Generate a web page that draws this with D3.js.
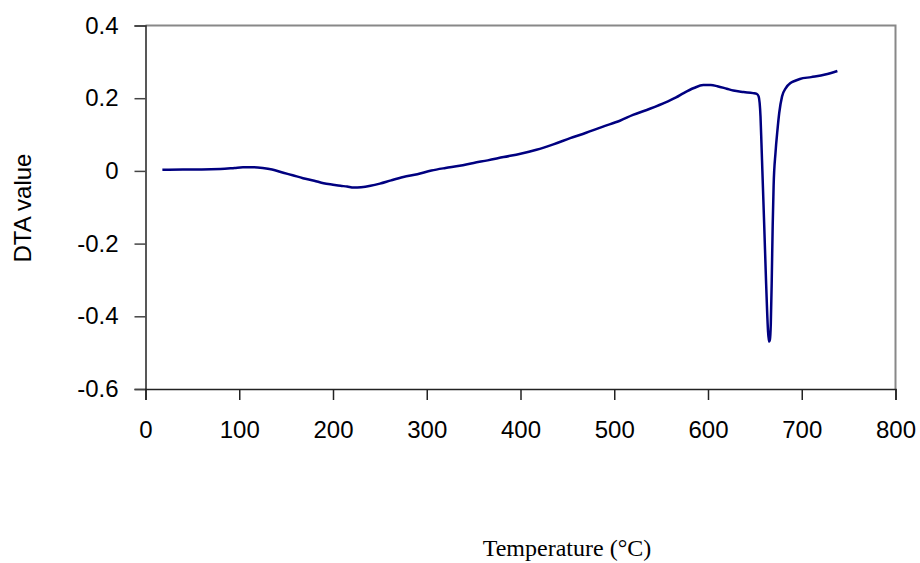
<!DOCTYPE html>
<html>
<head>
<meta charset="utf-8">
<script src="https://cdn.jsdelivr.net/npm/d3@7"></script>
<style>
  body { margin: 0; background: #fff; }
</style>
</head>
<body>
<div id="chart"></div>
<script>
// dimensions
var width = 920
var height = 563

var temperature = [18, 40, 60, 80, 95, 104, 115, 125, 135, 147, 157, 168, 180, 190, 200, 208, 215, 222, 230, 240,
  250, 262, 275, 290, 305, 320, 335, 350, 365, 382, 400, 417, 435, 453, 470, 488, 506, 520, 538, 556,
  566, 574, 585, 595, 603, 610, 620, 627, 638, 648, 652, 654, 656, 657, 658, 660, 662, 663, 664, 665,
  666, 667, 668, 669, 670, 672, 674, 676, 679, 683, 688, 693, 698, 710, 725, 738]
var dta = [0.003, 0.004, 0.004, 0.005, 0.008, 0.010, 0.010, 0.008, 0.004, -0.005, -0.012, -0.020, -0.027, -0.034, -0.038, -0.041, -0.043, -0.046, -0.045, -0.041,
  -0.035, -0.026, -0.017, -0.009, 0.001, 0.008, 0.014, 0.022, 0.029, 0.038, 0.047, 0.058, 0.073, 0.090, 0.105, 0.122, 0.138, 0.154, 0.171, 0.190,
  0.202, 0.214, 0.228, 0.236, 0.236, 0.233, 0.226, 0.221, 0.217, 0.214, 0.212, 0.205, 0.150, 0.077, 0.000, -0.153, -0.310, -0.382, -0.440, -0.470,
  -0.465, -0.420, -0.300, -0.150, -0.040, 0.050, 0.110, 0.160, 0.205, 0.228, 0.242, 0.248, 0.253, 0.258, 0.265, 0.275]

var xTicks = [0, 100, 200, 300, 400, 500, 600, 700, 800]
var yTicks = [-0.6, -0.4, -0.2, 0, 0.2, 0.4]

var data = temperature.map(function(t, i) { return {t: t, v: dta[i]} })

var svg = d3.select("#chart")
  .append("svg")
    .attr("width", width)
    .attr("height", height)

var x = d3.scaleLinear().domain([0, 800]).range([145.5, 895.5])
var y = d3.scaleLinear().domain([-0.6, 0.4]).range([389, 25.5])

// cadre gris (haut et droite)
svg.append("path")
  .attr("d", "M" + x(0) + "," + y(0.4) + "H" + x(800) + "V" + y(-0.6))
  .attr("fill", "none")
  .attr("stroke", "#888")
  .attr("stroke-width", 2)

// format avec tiret simple comme dans l'original
var fmtY = function(d) { return d === 0 ? "0" : d3.format(".1f")(d).replace("\u2212", "-") }

// axe Y
var yAxis = svg.append("g")
  .attr("transform", "translate(" + x(0) + ",0)")
  .call(d3.axisLeft(y).tickValues(yTicks).tickSize(11).tickPadding(16).tickFormat(fmtY))
yAxis.select(".domain").attr("stroke", "#222").attr("stroke-width", 1.5)
yAxis.selectAll(".tick line").attr("stroke", "#444").attr("stroke-width", 1.5)
yAxis.selectAll("text")
  .style("font-family", "'Liberation Sans', Arial, sans-serif")
  .style("font-size", "24px")
  .attr("fill", "#000")

// axe X
var xAxis = svg.append("g")
  .attr("transform", "translate(0," + y(-0.6) + ")")
  .call(d3.axisBottom(x).tickValues(xTicks).tickSize(11).tickPadding(21).tickFormat(d3.format("d")))
xAxis.select(".domain").attr("stroke", "#222").attr("stroke-width", 1.5)
xAxis.selectAll(".tick line").attr("stroke", "#222").attr("stroke-width", 1.5)
xAxis.selectAll("text")
  .style("font-family", "'Liberation Sans', Arial, sans-serif")
  .style("font-size", "24px")
  .attr("fill", "#000")

// courbe
var line = d3.line()
  .x(function(d) { return x(d.t) })
  .y(function(d) { return y(d.v) })
  .curve(d3.curveMonotoneX)

svg.append("path")
  .datum(data)
  .attr("d", line)
  .attr("fill", "none")
  .attr("stroke", "#000080")
  .attr("stroke-width", 2.5)
  .attr("stroke-linejoin", "round")

// titres des axes
svg.append("text")
  .attr("x", 567)
  .attr("y", 556)
  .attr("text-anchor", "middle")
  .style("font-family", "'Liberation Serif', 'Times New Roman', serif")
  .style("font-size", "24px")
  .text("Temperature (°C)")

svg.append("text")
  .attr("transform", "translate(31,208) rotate(-90)")
  .attr("text-anchor", "middle")
  .style("font-family", "'Liberation Sans', Arial, sans-serif")
  .style("font-size", "24px")
  .text("DTA value")
</script>
</body>
</html>
